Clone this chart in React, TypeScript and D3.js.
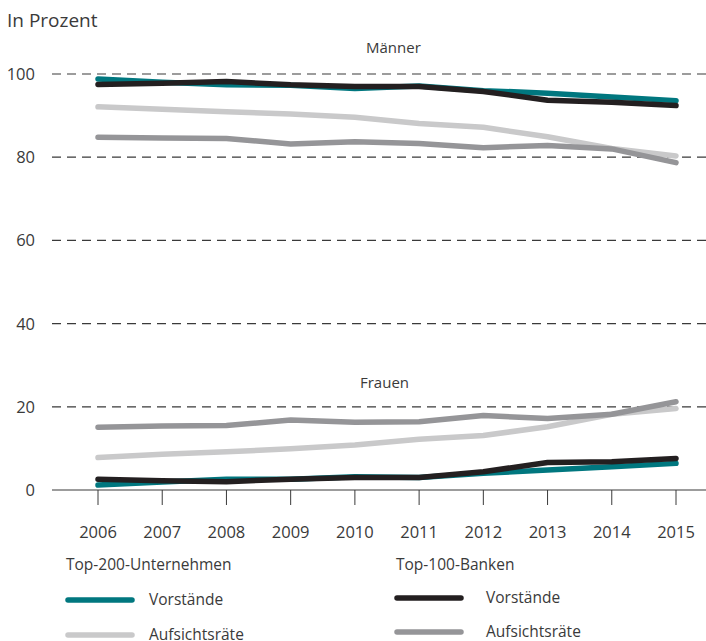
import React from "react";
import * as d3 from "d3";

const years = [2006, 2007, 2008, 2009, 2010, 2011, 2012, 2013, 2014, 2015];
const yTicks = [0, 20, 40, 60, 80, 100];

// Männer
const menTop200Vorstaende = [98.8, 98.0, 97.4, 97.3, 96.5, 97.1, 96.0, 95.4, 94.5, 93.6];
const menTop200Aufsicht = [92.1, 91.5, 90.9, 90.4, 89.6, 88.1, 87.2, 84.9, 82.1, 80.3];
const menBankenVorstaende = [97.5, 97.8, 98.2, 97.4, 97.0, 97.0, 95.8, 93.7, 93.2, 92.4];
const menBankenAufsicht = [84.8, 84.6, 84.5, 83.2, 83.7, 83.3, 82.3, 82.8, 82.0, 78.7];

// Frauen
const womenTop200Vorstaende = [1.2, 1.9, 2.6, 2.6, 3.2, 3.0, 4.0, 4.8, 5.6, 6.4];
const womenTop200Aufsicht = [7.8, 8.6, 9.2, 9.9, 10.8, 12.2, 13.1, 15.2, 18.2, 19.6];
const womenBankenVorstaende = [2.6, 2.2, 2.0, 2.6, 3.0, 3.0, 4.4, 6.6, 6.8, 7.6];
const womenBankenAufsicht = [15.1, 15.4, 15.5, 16.8, 16.3, 16.4, 17.9, 17.2, 18.2, 21.2];

const TEAL = "#00777f";
const BLACK = "#231f20";
const LIGHT = "#c9c9ca";
const MID = "#959598";
const TEXT = "#3a3a3a";
const FONT = "'Open Sans', 'Noto Sans', sans-serif";

const W = 706;
const H = 641;

const App = () => {
  const x = d3.scaleLinear().domain([2006, 2015]).range([98, 676]);
  const y = d3.scaleLinear().domain([0, 100]).range([490, 74]);

  const line = d3
    .line<number>()
    .x((_, i) => x(years[i]))
    .y((d) => y(d));

  // draw order: light gray, mid gray, teal, black
  const series = [
    { data: menTop200Aufsicht, color: LIGHT },
    { data: menBankenAufsicht, color: MID },
    { data: menTop200Vorstaende, color: TEAL },
    { data: menBankenVorstaende, color: BLACK },
    { data: womenTop200Aufsicht, color: LIGHT },
    { data: womenBankenAufsicht, color: MID },
    { data: womenTop200Vorstaende, color: TEAL },
    { data: womenBankenVorstaende, color: BLACK },
  ];

  const legend = [
    { label: "Vorstände", color: TEAL, x: 66, y: 600, tx: 149 },
    { label: "Aufsichtsräte", color: LIGHT, x: 66, y: 635, tx: 149 },
    { label: "Vorstände", color: BLACK, x: 395, y: 598, tx: 486 },
    { label: "Aufsichtsräte", color: MID, x: 395, y: 632, tx: 486 },
  ];

  return (
    <svg
      width={W}
      height={H}
      style={{ position: "absolute", left: 0, top: 0 }}
      fontFamily={FONT}
    >
      <rect width={W} height={H} fill="#fff" />
      <text x={7} y={27} fontSize={19} fill={TEXT}>
        In Prozent
      </text>

      {yTicks.map((t) => (
        <g key={t}>
          {t === 0 ? (
            <line x1={52} x2={706} y1={y(t)} y2={y(t)} stroke={TEXT} strokeWidth={1.2} />
          ) : (
            <line
              x1={52}
              x2={706}
              y1={y(t)}
              y2={y(t)}
              stroke={TEXT}
              strokeWidth={1.2}
              strokeDasharray="9,6"
            />
          )}
          <text x={35} y={y(t)} dy="0.36em" textAnchor="end" fontSize={16.5} fill={TEXT}>
            {t}
          </text>
        </g>
      ))}

      {years.map((yr) => (
        <g key={yr}>
          <line x1={x(yr)} x2={x(yr)} y1={490} y2={505} stroke={TEXT} strokeWidth={1} />
          <text x={x(yr)} y={538} textAnchor="middle" fontSize={16.5} fill={TEXT}>
            {yr}
          </text>
        </g>
      ))}

      <text x={366} y={53} fontSize={15} fill={TEXT}>
        Männer
      </text>
      <text x={360} y={388} fontSize={15} fill={TEXT}>
        Frauen
      </text>

      {series.map((s, i) => (
        <path
          key={i}
          d={line(s.data) || ""}
          fill="none"
          stroke={s.color}
          strokeWidth={5.5}
          strokeLinecap="round"
          strokeLinejoin="round"
        />
      ))}

      <text x={66} y={570} fontSize={15.5} fill={TEXT}>
        Top-200-Unternehmen
      </text>
      <text x={396} y={570} fontSize={15.5} fill={TEXT}>
        Top-100-Banken
      </text>
      {legend.map((l, i) => (
        <g key={i}>
          <line
            x1={l.x + 2}
            x2={l.x + 66}
            y1={l.y}
            y2={l.y}
            stroke={l.color}
            strokeWidth={5.5}
            strokeLinecap="round"
          />
          <text x={l.tx} y={l.y + 5} fontSize={15.5} fill={TEXT}>
            {l.label}
          </text>
        </g>
      ))}
    </svg>
  );
};

export default App;
